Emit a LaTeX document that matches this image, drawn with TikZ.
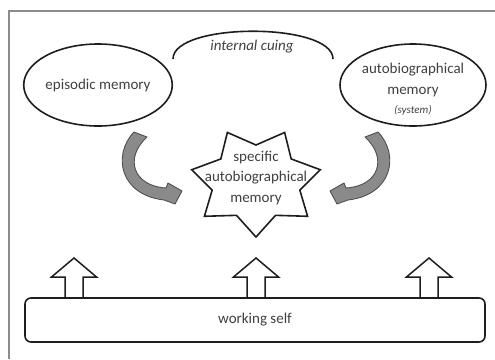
\documentclass[tikz,border=0pt]{standalone}
\usepackage{fontspec}
\setmainfont{Carlito}
\usetikzlibrary{shapes.geometric,calc}
\definecolor{ink}{HTML}{1E1E1E}
\definecolor{txt}{HTML}{404040}
\definecolor{band}{HTML}{8A8A8A}
\definecolor{bandedge}{HTML}{505050}
\definecolor{frame}{HTML}{8C8C8C}
\tikzset{
  outline/.style={draw=ink, line width=1.6pt, line join=miter},
  label/.style={text=txt, font=\fontsize{15}{20.5}\selectfont, align=center, inner sep=0pt},
  bubble/.style={ellipse, outline, minimum width=146pt, minimum height=82pt, label},
  curvearrow/.style={fill=band, draw=bandedge, line width=0.9pt, line join=round},
  blockarrow/.style={fill=white, outline, line width=1.5pt},
}
\begin{document}
\begin{tikzpicture}[x=1pt,y=-1pt]
  \useasboundingbox (0,0) rectangle (495,359);
  % page frame (left and top rules)
  \draw[frame, line width=1.4pt] (9,359) -- (9,11) -- (495,11);

  % memory systems
  \node[bubble] (epi) at (98,85) {episodic memory};
  \node[bubble] (abm) at (413,85) {};
  \node[label] (abmtxt) at (413,80) {autobiographical\\memory};
  \node[label, font=\fontsize{11}{13}\selectfont\itshape] (sys) at (413,110) {(system)};

  % internal cuing arc
  \coordinate (cueL) at (173,59);
  \coordinate (cueR) at (333,59);
  \draw[outline] (cueL) .. controls (173,22) and (333,22) .. (cueR);
  \node[label, font=\fontsize{15}{18}\selectfont\itshape] (cue) at (252,47) {internal cuing};

  % specific autobiographical memory (seven-pointed star)
  \coordinate (sc) at (256,182);
  \draw[outline, fill=white]
    ($(sc)+(270:66pt and 55pt)$)
    \foreach \k in {0,...,6} {
      -- ($(sc)+({270+25.714+51.428*\k}:45pt and 37pt)$)
      -- ($(sc)+({270+51.428*(\k+1)}:66pt and 55pt)$)
    } -- cycle;
  \node[label] (sam) at (256,178) {specific\\autobiographical\\memory};

  % curved gray arrows into the star
  \draw[curvearrow] (134,132) .. controls (112,155) and (120,195) .. (164,200)
    -- (175,204) -- (182,191) -- (168,183) -- (166,188)
    .. controls (133,186) and (124,158) .. (147,137) -- cycle;
  \draw[curvearrow] (378,132) .. controls (400,155) and (392,195) .. (348,200)
    -- (337,204) -- (330,191) -- (344,183) -- (346,188)
    .. controls (379,186) and (388,158) .. (365,137) -- cycle;

  % block arrows rising towards the memories
  \foreach \cx in {74,256,429} {
    \draw[blockarrow] (\cx-9,299) -- (\cx-9,277) -- (\cx-22.5,277) -- (\cx,258)
      -- (\cx+22.5,277) -- (\cx+9,277) -- (\cx+9,299);
  }

  % working self
  \node[rectangle, rounded corners=6pt, outline, fill=white, minimum width=460pt,
        minimum height=44pt, label] (ws) at (255,320) {working self};
\end{tikzpicture}
\end{document}
